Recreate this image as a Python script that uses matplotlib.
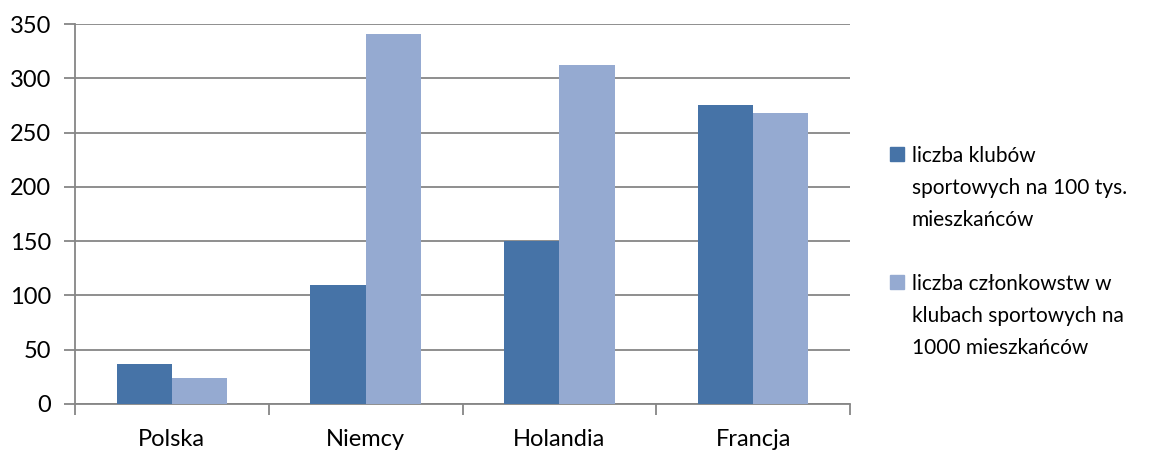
import numpy as np
import matplotlib
matplotlib.use('Agg')
import matplotlib.pyplot as plt
from matplotlib.patches import Rectangle

categories = ['Polska', 'Niemcy', 'Holandia', 'Francja']
kluby = [37, 110, 150, 275]
czlonkostwa = [24, 341, 312, 268]
labels = ['liczba klubów\nsportowych na 100 tys.\nmieszkańców',
          'liczba członkowstw w\nklubach sportowych na\n1000 mieszkańców']
yticks = [0, 50, 100, 150, 200, 250, 300, 350]

plt.rcParams['font.family'] = ['Lato', 'DejaVu Sans']
grey = '#868686'
colors = ['#4673A7', '#95AAD1']
W, H = 1167, 450

fig = plt.figure(figsize=(W / 100, H / 100), dpi=100)
ax = fig.add_axes([75 / W, 1 - 404 / H, 775 / W, 380 / H])

x = np.arange(len(categories))
w = 1 / 3.5
ax.bar(x - w / 2, kluby, w, color=colors[0], zorder=3)
ax.bar(x + w / 2, czlonkostwa, w, color=colors[1], zorder=3)

ax.set_xlim(-0.5, len(categories) - 0.5)
ax.set_ylim(0, 350)
ax.set_yticks(yticks)
ax.yaxis.grid(True, color=grey, linewidth=1.3, zorder=0)
ax.set_axisbelow(True)

ax.set_xticks(np.arange(-0.5, len(categories)))
ax.set_xticklabels([])
ax.set_xticks(x, minor=True)
ax.set_xticklabels(categories, minor=True)
ax.tick_params(axis='x', which='major', length=8, color=grey, width=1.3, direction='out')
ax.tick_params(axis='x', which='minor', length=0, pad=18, labelsize=17)
ax.tick_params(axis='y', length=8, color=grey, width=1.3, labelsize=17, pad=9)

for s in ['top', 'right']:
    ax.spines[s].set_visible(False)
for s in ['left', 'bottom']:
    ax.spines[s].set_color(grey)
    ax.spines[s].set_linewidth(1.3)

# legend drawn by hand to get Excel-like spacing
entry_top = [162, 290]
line_h = 32
for i, lab in enumerate(labels):
    y0 = entry_top[i]
    fig.patches.append(Rectangle((890 / W, 1 - (y0 - 1) / H), 14 / W, 14 / H,
                                 transform=fig.transFigure, color=colors[i]))
    for j, line in enumerate(lab.split('\n')):
        fig.text(912 / W, 1 - (y0 + j * line_h) / H, line, fontsize=15,
                 va='baseline', ha='left')

fig.savefig('out.png', dpi=100)
